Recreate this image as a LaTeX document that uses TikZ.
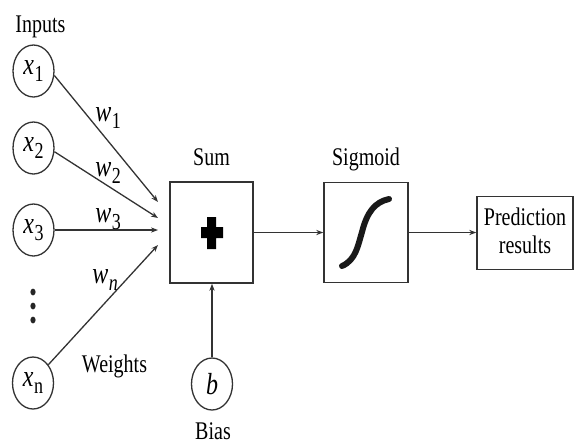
\documentclass[tikz,border=0pt]{standalone}
\usepackage{fontspec}
\setmainfont{Liberation Serif}
\usepackage{graphicx}
\usetikzlibrary{shapes.geometric,arrows.meta}
\newcommand{\vst}[1]{\scalebox{1}[1.27]{#1}}
\newcommand{\xsub}[2]{\vst{\textit{#1}\kern0.2pt\raisebox{-0.5ex}{\small #2}}}
\begin{document}
\begin{tikzpicture}[x=0.5pt,y=-0.5pt,
  lin/.style={draw=black!80,line width=0.65pt},
  arr/.style={lin,-{Stealth[length=3.5pt,width=2.6pt]}},
  inp/.style={ellipse,draw=black!80,line width=0.65pt,minimum width=20.5pt,minimum height=26pt,inner sep=0pt,font=\large},
  box/.style={rectangle,draw=black!80,line width=0.75pt,inner sep=0pt},
  lbl/.style={font=\normalsize,inner sep=0pt},
  wl/.style={font=\large,inner sep=0pt,anchor=base west},
  dot/.style={ellipse,fill=black!85,minimum width=2.6pt,minimum height=3.4pt,inner sep=0pt}]
\useasboundingbox (0,0) rectangle (576,445);
% inputs
\node[lbl,anchor=base west] (inputs) at (15,32) {\vst{Inputs}};
\node[inp] (x1) at (33.5,71) {\xsub{x}{1}};
\node[inp] (x2) at (33.5,148) {\xsub{x}{2}};
\node[inp] (x3) at (33.5,230) {\xsub{x}{3}};
\node[inp] (xn) at (33,383) {\xsub{x}{n}};
\node[dot] (d1) at (33,292) {};
\node[dot] (d2) at (33,306) {};
\node[dot] (d3) at (33,320) {};
% arrow ends
\coordinate (e1) at (158,202);
\coordinate (e2) at (158,218);
\coordinate (e3) at (158,230);
\coordinate (en) at (158,245);
\draw[arr] (x1.-12) -- (e1);
\draw[arr] (x2.-10) -- (e2);
\draw[arr] (x3.east) -- (e3);
\draw[arr] (xn.50) -- (en);
% weights
\node[wl] (w1) at (95,121) {\xsub{w}{1}};
\node[wl] (w2) at (95,176) {\xsub{w}{2}};
\node[wl] (w3) at (95,222) {\xsub{w}{3}};
\node[wl] (wn) at (92,283) {\xsub{w}{\textit{n}}};
\node[lbl,anchor=base] (weights) at (114.5,372) {\vst{Weights}};
% sum
\node[lbl,anchor=base] (sumlbl) at (211.5,165) {\vst{Sum}};
\node[box,minimum width=41.5pt,minimum height=50.5pt] (sum) at (211.5,232.5) {};
\fill[black] (207,217) -- (216,217) -- (216,227) -- (223,227) -- (223,238) -- (216,238) -- (216,249) -- (207,249) -- (207,238) -- (201,238) -- (201,227) -- (207,227) -- cycle;
% bias
\node[inp] (b) at (212,384) {\vst{\textit{b}}};
\node[lbl,anchor=base] (bias) at (213,439) {\vst{Bias}};
\draw[arr] (b.north) -- (sum.south -| b.north);
% sigmoid
\node[lbl,anchor=base] (siglbl) at (366,165) {\vst{Sigmoid}};
\node[box,minimum width=42pt,minimum height=50pt] (sig) at (366,232.5) {};
\draw[line width=3pt,line cap=round,black!90] (342,266) .. controls (356,260) and (358,245) .. (362,232) .. controls (367,212) and (375,202) .. (389,199);
% prediction
\node[box,minimum width=48pt,minimum height=36.5pt,align=center] (pred) at (525,233) {\vst{\begin{tabular}{@{}c@{}}Prediction\\[-1pt]results\end{tabular}}};
\draw[arr] (sum.east) -- (sig.west);
\draw[arr] (sig.east) -- (pred.west |- sig.east);
\end{tikzpicture}
\end{document}
